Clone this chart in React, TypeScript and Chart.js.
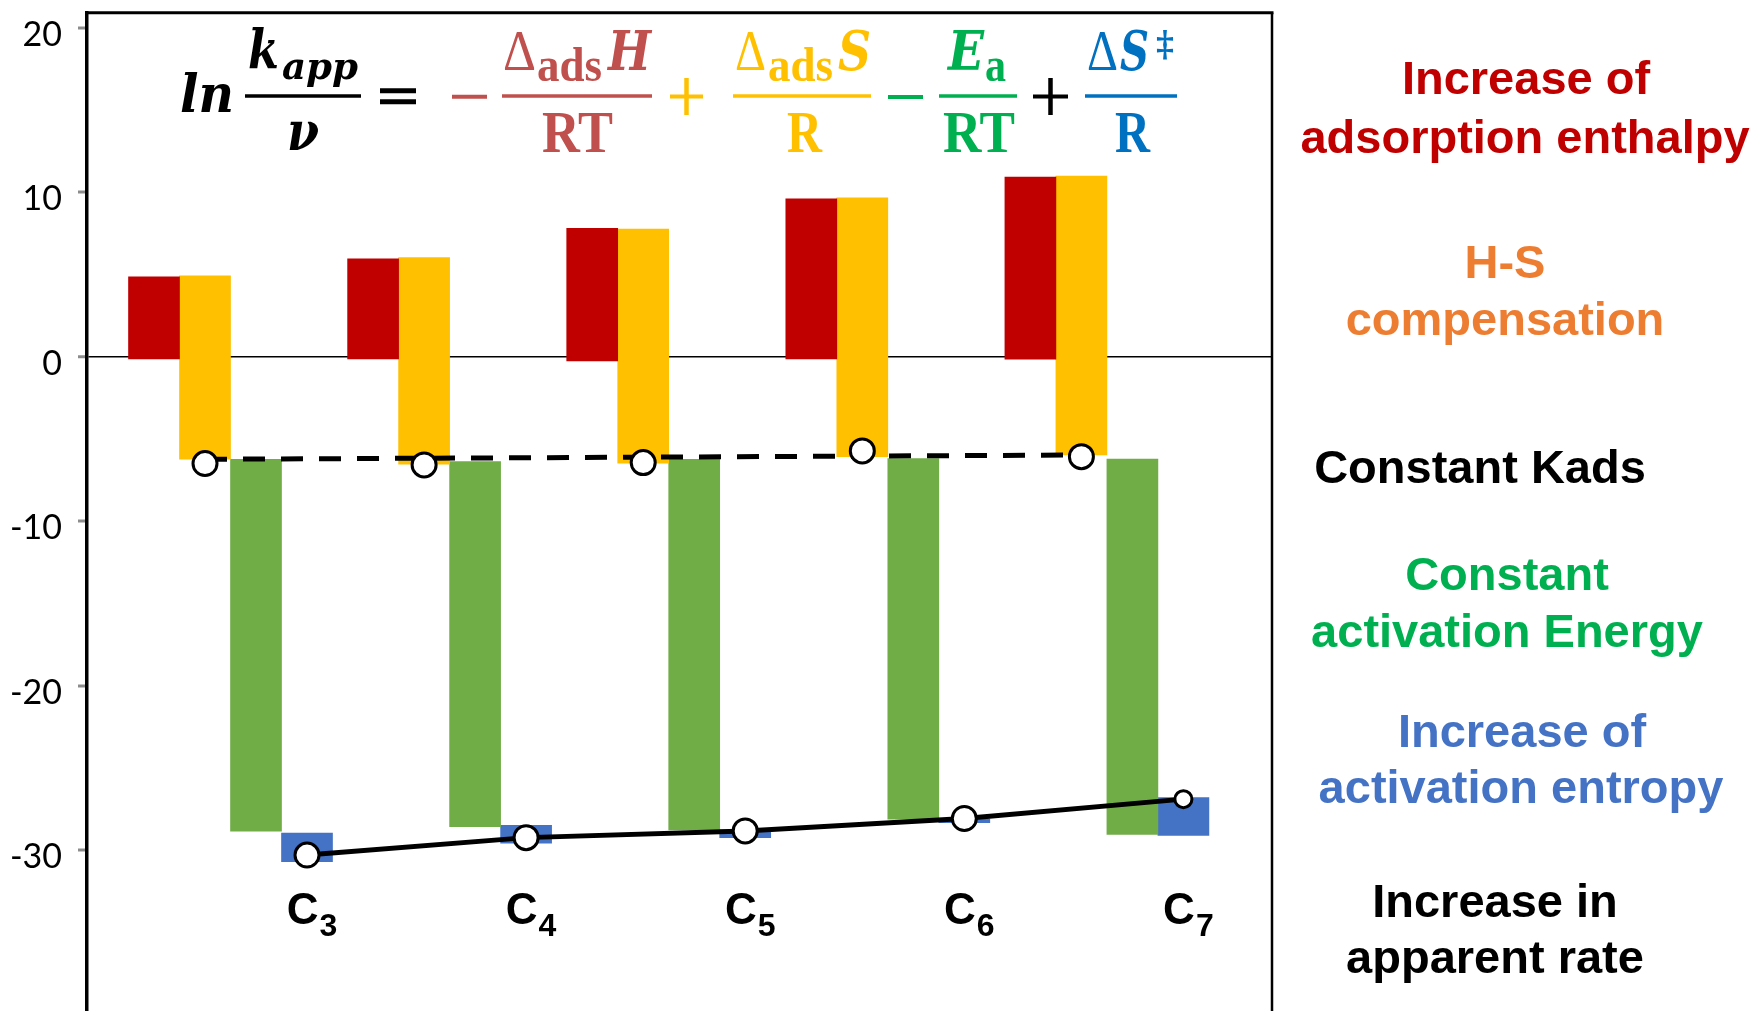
import React, { useEffect, useRef } from 'react';
import { Chart, registerables } from 'chart.js';

Chart.register(...registerables);

// ---------------- data ----------------
const categories = ['C3', 'C4', 'C5', 'C6', 'C7'];
const categorySubscripts = ['3', '4', '5', '6', '7'];
const yTicks = [20, 10, 0, -10, -20, -30];

// -ΔadsH/RT (red) floating bars
const adsHLow = [-0.14, -0.14, -0.26, -0.14, -0.16];
const adsHHigh = [4.86, 5.94, 7.8, 9.59, 10.92];
// ΔadsS/R (yellow) floating bars
const adsSHigh = [4.92, 6.02, 7.76, 9.65, 10.98];
const adsSLow = [-6.24, -6.54, -6.48, -6.08, -5.98];
// -Ea/RT (green) floating bars
const eaHigh = [-6.24, -6.38, -6.24, -6.2, -6.22];
const eaLow = [-28.84, -28.57, -28.77, -28.12, -29.04];
// ΔS‡/R (blue) floating bars
const dsActHigh = [-28.97, -28.49, -28.77, -28.1, -26.81];
const dsActLow = [-30.7, -29.58, -29.24, -28.33, -29.1];
// ln Kads points and their trend line (first / last category)
const lnKads = [-6.5, -6.58, -6.44, -5.73, -6.08];
const lnKadsTrend = [-6.24, -5.98];
// ln(kapp/ν) points
const lnRate = [-30.3, -29.24, -28.83, -28.08, -26.9];

// ---------------- layout constants ----------------
const W = 1760;
const H = 1011;
const X_MIN = -0.655;
const X_MAX = 4.7535;
const Y_MIN = -39.78;
const Y_MAX = 20.91;
const BAR_PX = 51;
const BAR_STEP = 51 / 219.1;
const barX = (g: number, k: number) => g + (k - 1.5) * BAR_STEP;

function txt(ctx: CanvasRenderingContext2D, s: string, x: number, y: number, font: string, color: string, maxW?: number, align: CanvasTextAlign = 'left') {
  ctx.font = font;
  ctx.fillStyle = color;
  ctx.textAlign = align;
  ctx.textBaseline = 'alphabetic';
  if (maxW) {
    const w = ctx.measureText(s).width;
    if (w > maxW) ctx.fillText(s, x, y, maxW);
    else ctx.fillText(s, x + (maxW - w) / 2, y);
    return;
  }
  ctx.fillText(s, x, y);
}

function seg(ctx: CanvasRenderingContext2D, x1: number, y1: number, x2: number, y2: number, color: string, lw: number) {
  ctx.beginPath();
  ctx.strokeStyle = color;
  ctx.lineWidth = lw;
  ctx.lineCap = 'butt';
  ctx.moveTo(x1, y1);
  ctx.lineTo(x2, y2);
  ctx.stroke();
}

const BI = (s: number) => `italic bold ${s}px "DejaVu Serif"`;
const SB = (s: number) => `bold ${s}px "Liberation Serif"`;
const SR = (s: number) => `${s}px "Liberation Serif"`;

const decorPlugin = {
  id: 'decor',
  afterDraw(chart: any) {
    const ctx: CanvasRenderingContext2D = chart.ctx;
    const a = chart.chartArea;
    ctx.save();
    // frame (top and right)
    seg(ctx, a.left - 1.5, a.top, a.right + 1.5, a.top, '#000', 3);
    seg(ctx, a.right, a.top, a.right, H, '#000', 2.5);

    // ---------- equation ----------
    const K = '#000';
    txt(ctx, 'ln', 180, 112, BI(52), K, 54);
    txt(ctx, 'k', 248, 68, BI(54), K, 31);
    txt(ctx, 'app', 282, 79, BI(38), K, 76);
    seg(ctx, 245, 96, 361, 96, K, 3.5);
    txt(ctx, 'ν', 287, 150, BI(54), K, 32);
    seg(ctx, 380, 90.8, 416, 90.8, K, 5);
    seg(ctx, 380, 101.8, 416, 101.8, K, 5);

    const RED = '#C0504D';
    seg(ctx, 452, 96.7, 487, 96.7, RED, 4);
    seg(ctx, 502, 96, 652, 96, RED, 3.5);
    txt(ctx, 'Δ', 503, 70, SR(58), RED, 33);
    txt(ctx, 'ads', 537, 81, SB(48), RED, 65);
    txt(ctx, 'H', 608, 70, BI(54), RED, 43);
    txt(ctx, 'RT', 542, 152, SB(59), RED, 71);

    const YEL = '#FFC000';
    seg(ctx, 670, 96.5, 703, 96.5, YEL, 4);
    seg(ctx, 686.5, 78, 686.5, 115, YEL, 4.5);
    seg(ctx, 733, 96, 871, 96, YEL, 3.5);
    txt(ctx, 'Δ', 735, 70, SR(58), YEL, 31);
    txt(ctx, 'ads', 768, 81, SB(48), YEL, 65);
    txt(ctx, 'S', 838, 70, BI(54), YEL, 33);
    txt(ctx, 'R', 787, 152, SB(59), YEL, 35);

    const GRN = '#00B050';
    seg(ctx, 888, 97, 923, 97, GRN, 4);
    seg(ctx, 939, 96, 1017, 96, GRN, 3.5);
    txt(ctx, 'E', 948, 70, BI(54), GRN, 36);
    txt(ctx, 'a', 985, 81, SB(48), GRN, 21);
    txt(ctx, 'RT', 943, 152, SB(59), GRN, 72);

    seg(ctx, 1033, 96.5, 1068, 96.5, K, 4);
    seg(ctx, 1050.5, 78, 1050.5, 115, K, 4.5);

    const BLU = '#0070C0';
    seg(ctx, 1085, 96, 1177, 96, BLU, 3.5);
    txt(ctx, 'Δ', 1087, 70, SR(58), BLU, 31);
    txt(ctx, 'S', 1120, 70, BI(54), BLU, 29);
    txt(ctx, '‡', 1156, 56, `bold 36px "DejaVu Serif"`, BLU, 18);
    txt(ctx, 'R', 1115, 152, SB(59), BLU, 35);

    // ---------- right-hand annotations ----------
    const AF = 'bold 47px "Liberation Sans", Arial, sans-serif';
    const notes: [string, number, number, string][] = [
      ['Increase of', 1526, 94, '#C00000'],
      ['adsorption enthalpy', 1525, 153, '#C00000'],
      ['H-S', 1505, 278, '#ED7D31'],
      ['compensation', 1505, 335, '#ED7D31'],
      ['Constant Kads', 1480, 483, '#000000'],
      ['Constant', 1507, 590, '#00B050'],
      ['activation Energy', 1507, 647, '#00B050'],
      ['Increase of', 1522, 747, '#4472C4'],
      ['activation entropy', 1521, 803, '#4472C4'],
      ['Increase in', 1495, 917, '#000000'],
      ['apparent rate', 1495, 973, '#000000'],
    ];
    notes.forEach(([s, x, y, c]) => txt(ctx, s, x, y, AF, c, undefined, 'center'));

    // ---------- category labels (C with subscript) ----------
    const xs = chart.scales.x;
    const ys = chart.scales.y;
    const yBase = ys.getPixelForValue(-34.5);
    categories.forEach((_, g) => {
      const cx = xs.getPixelForValue(barX(g, 3)) + 5;
      ctx.font = 'bold 44px "Liberation Sans", Arial, sans-serif';
      const wC = ctx.measureText('C').width;
      ctx.font = 'bold 32px "Liberation Sans", Arial, sans-serif';
      const wD = ctx.measureText(categorySubscripts[g]).width;
      const x0 = cx - (wC + 1 + wD) / 2;
      txt(ctx, 'C', x0, yBase, 'bold 44px "Liberation Sans", Arial, sans-serif', '#000');
      txt(ctx, categorySubscripts[g], x0 + wC + 1, yBase + 12, 'bold 32px "Liberation Sans", Arial, sans-serif', '#000');
    });
    ctx.restore();
  },
};

export default function App() {
  const ref = useRef<HTMLCanvasElement | null>(null);
  useEffect(() => {
    if (!ref.current) return;
    const barSpec = [
      { label: '-ΔadsH/RT', low: adsHLow, high: adsHHigh, color: '#C00000' },
      { label: 'ΔadsS/R', low: adsSLow, high: adsSHigh, color: '#FFC000' },
      { label: '-Ea/RT', low: eaLow, high: eaHigh, color: '#70AD47' },
      { label: 'ΔS‡/R', low: dsActLow, high: dsActHigh, color: '#4472C4' },
    ];
    const barSets = barSpec.map((b, k) => ({
      type: 'bar' as const,
      label: b.label,
      data: categories.map((_, g) => ({ x: barX(g, k), y: [b.low[g], b.high[g]] })),
      backgroundColor: b.color,
      borderWidth: 0,
      barThickness: BAR_PX,
      grouped: false,
      order: 10,
    }));
    const chart = new Chart(ref.current, {
      type: 'bar',
      data: {
        datasets: [
          ...barSets,
          {
            type: 'line',
            label: 'ln Kads trend',
            data: [
              { x: barX(0, 1), y: lnKadsTrend[0] },
              { x: barX(categories.length - 1, 1), y: lnKadsTrend[1] },
            ],
            borderColor: '#000',
            borderWidth: 5,
            borderDash: [22, 16],
            pointRadius: 0,
            tension: 0,
            order: 5,
          },
          {
            type: 'line',
            label: 'ln Kads',
            data: categories.map((_, g) => ({ x: barX(g, 1), y: lnKads[g] })),
            showLine: false,
            pointRadius: 12,
            pointBackgroundColor: '#fff',
            pointBorderColor: '#000',
            pointBorderWidth: 3,
            order: 1,
          },
          {
            type: 'line',
            label: 'ln(kapp/ν)',
            data: categories.map((_, g) => ({ x: barX(g, 3), y: lnRate[g] })),
            borderColor: '#000',
            borderWidth: 5,
            tension: 0,
            pointRadius: [12, 12, 12, 12, 8.5],
            pointBackgroundColor: '#fff',
            pointBorderColor: '#000',
            pointBorderWidth: 3,
            order: 1,
          },
        ] as any,
      },
      options: {
        responsive: false,
        animation: false,
        layout: { autoPadding: false, padding: { left: 0, top: 12.7, right: W - 1272, bottom: 0 } },
        plugins: { legend: { display: false }, tooltip: { enabled: false } },
        scales: {
          x: { type: 'linear', min: X_MIN, max: X_MAX, display: false, offset: false },
          y: {
            type: 'linear',
            min: Y_MIN,
            max: Y_MAX,
            afterBuildTicks: (s: any) => {
              s.ticks = yTicks.map((v) => ({ value: v }));
            },
            afterFit: (s: any) => {
              s.width = 87;
              s.paddingTop = 0;
              s.paddingBottom = 0;
            },
            ticks: {
              font: { family: 'Lato', size: 34 },
              color: '#000',
              padding: 16,
              labelOffset: 7,
              callback: (v: any) => String(v),
            },
            grid: {
              color: (c: any) => (c.tick && c.tick.value === 0 ? '#000' : 'rgba(0,0,0,0)'),
              lineWidth: (c: any) => (c.tick && c.tick.value === 0 ? 1.5 : 0),
              tickColor: '#8c8c8c',
              tickLength: 9,
              tickWidth: 3,
              drawTicks: true,
            },
            border: { display: true, color: '#000', width: 3.5 },
          },
        },
      } as any,
      plugins: [decorPlugin],
    });
    return () => chart.destroy();
  }, []);
  return (
    <div style={{ position: 'fixed', left: 0, top: 0, width: W, height: H, background: '#fff' }}>
      <canvas ref={ref} width={W} height={H} style={{ display: 'block' }} />
    </div>
  );
}
